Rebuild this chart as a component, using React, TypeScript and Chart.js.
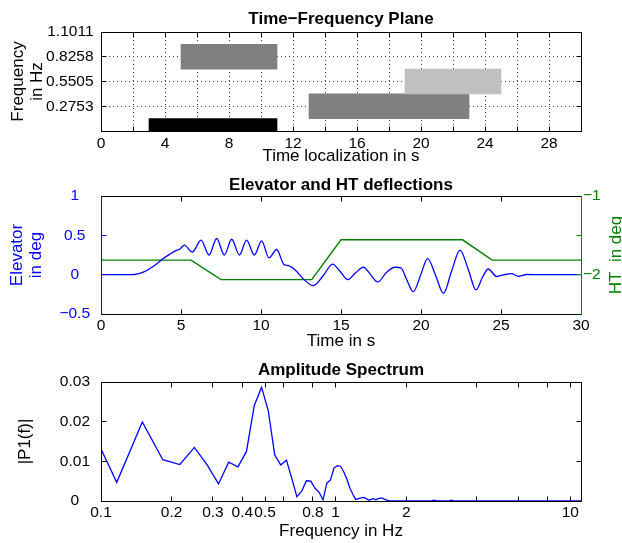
import React, { useEffect, useRef } from 'react';
import { Chart, registerables } from 'chart.js';

Chart.register(...registerables);

// ---------------- data ----------------
// Panel 1: time-frequency plane (rectangles: time span at a frequency level)
const tfFreqLevels = [0, 0.2753, 0.5505, 0.8258];
const tfTimeStart = [3, 13, 19, 5];
const tfTimeEnd = [11, 23, 25, 11];
const tfYTicks = [0, 0.2753, 0.5505, 0.8258, 1.1011];
const tfYTickLabels = ['', '0.2753', '0.5505', '0.8258', '1.1011'];
const tfXTicks = [0, 2, 4, 6, 8, 10, 12, 14, 16, 18, 20, 22, 24, 26, 28, 30];
const tfXTickLabels = ['0', '', '4', '', '8', '', '12', '', '16', '', '20', '', '24', '', '28', ''];

// Panel 2: elevator and HT deflections
const elevTime = [0, 1.9, 2.75, 3.3, 3.79, 4.3, 4.62, 4.95, 5.21, 5.71, 6.25, 6.75, 7.23, 7.71, 8.17, 8.65, 9.1, 9.58, 10.04, 10.5, 10.98, 11.44, 11.71, 12.12, 12.65, 13.27, 13.9, 14.47, 14.95, 15.42, 15.9, 16.4, 16.85, 17.29, 17.85, 18.37, 18.75, 19.1, 19.52, 19.97, 20.41, 20.9, 21.4, 21.92, 22.44, 22.95, 23.44, 23.85, 24.2, 24.73, 25.2, 25.67, 26.08, 26.6, 27.5, 30];
const elevDeg = [0, 0, 0.042, 0.11, 0.19, 0.26, 0.3, 0.33, 0.376, 0.286, 0.44, 0.25, 0.46, 0.25, 0.45, 0.25, 0.44, 0.25, 0.43, 0.213, 0.32, 0.127, 0.115, 0.063, -0.055, -0.14, -0.01, 0.135, 0.04, -0.064, 0.02, 0.094, 0, -0.094, 0.03, 0.094, 0.085, -0.06, -0.216, -0.01, 0.205, 0, -0.237, 0.05, 0.312, 0.07, -0.194, -0.03, 0.072, -0.023, 0, 0.013, -0.02, 0.002, 0, 0];
const htTime = [0, 5.63, 7.5, 13.17, 15.0, 22.6, 24.45, 30];
const htDeg = [-1.815, -1.815, -2.063, -2.063, -1.557, -1.557, -1.815, -1.815];
const timeTicks = [0, 5, 10, 15, 20, 25, 30];
const elevTicks = [-0.5, 0, 0.5, 1];
const htTicks = [-2.5, -2, -1.5, -1];
const htTickLabels = ['', '-2', '', '-1'];

// Panel 3: amplitude spectrum
const specFreq = [0.1, 0.1167, 0.15, 0.1833, 0.2167, 0.25, 0.2833, 0.3167, 0.35, 0.3833, 0.4167, 0.45, 0.4833, 0.5167, 0.55, 0.5833, 0.6167, 0.65, 0.6833, 0.7167, 0.75, 0.7833, 0.8167, 0.85, 0.8833, 0.9167, 0.95, 0.9833, 1.0167, 1.05, 1.0833, 1.1167, 1.15, 1.1833, 1.2167, 1.25, 1.2833, 1.3167, 1.35, 1.3833, 1.4167, 1.45, 1.4833, 1.5167, 1.55, 1.5833, 1.6167, 1.65, 1.6833, 1.75, 2.0, 2.55, 2.62, 2.7, 3.05, 3.12, 3.2, 5, 11.1];
const specAmp = [0.0131, 0.0047, 0.0199, 0.0104, 0.0092, 0.0135, 0.0091, 0.0043, 0.0098, 0.0086, 0.0125, 0.0241, 0.0287, 0.0226, 0.0116, 0.0091, 0.0103, 0.0057, 0.0011, 0.0025, 0.0051, 0.005, 0.0032, 0.0022, 0.0003, 0.0045, 0.0053, 0.0083, 0.0089, 0.0087, 0.0073, 0.0055, 0.0032, 0.0017, 0.0004, 0.0006, 0.0008, 0.0009, 0.0006, 0.0002, 0.0004, 0.0006, 0.0003, 0.0006, 0.0007, 0.0007, 0.0004, 0.0002, 0.0001, 0, 0, 0, 0.0002, 0, 0.0001, 0.0002, 0, 0, 0];
const specXTicks = [0.1, 0.2, 0.3, 0.4, 0.5, 0.6, 0.8, 1, 2, 4, 6, 8, 10];
const specXTickLabels = ['0.1', '0.2', '0.3', '0.4', '0.5', '', '0.8', '1', '2', '', '', '', '10'];
const specYTicks = [0, 0.01, 0.02, 0.03];
const specYTickLabels = ['0', '0.01', '0.02', '0.03'];

// ---------------- styling helpers ----------------
const FONT = "'Liberation Sans', Arial, Helvetica, sans-serif";
const BLUE = '#0000ff';
const GREEN = '#008000';
const tickFont = { family: FONT, size: 15.5 };
const labelFont = { family: FONT, size: 17 };
const minus = (s: string) => s.replace('-', '\u2212');
const setTicks = (values: number[]) => (scale: any) => {
  scale.ticks = values.map((v) => ({ value: v }));
};

const frame = {
  id: 'matlabFrame',
  afterDraw(chart: any, _args: any, o: any) {
    const { ctx, chartArea: a, scales } = chart;
    const px = (p: number) => Math.round(p - 0.5) + 0.5;
    const L = px(a.left), R = px(a.right), T = px(a.top), B = px(a.bottom);
    const tl = 5;
    const line = (x1: number, y1: number, x2: number, y2: number, c: string) => {
      ctx.strokeStyle = c;
      ctx.beginPath();
      ctx.moveTo(x1, y1);
      ctx.lineTo(x2, y2);
      ctx.stroke();
    };
    ctx.save();
    ctx.lineWidth = 1;
    ctx.setLineDash([]);
    const xs = scales.x;
    xs.ticks.forEach((t: any) => {
      const x = px(xs.getPixelForValue(t.value));
      line(x, B, x, B - tl, '#000');
      line(x, T, x, T + tl, '#000');
    });
    const yl = scales.y;
    yl.ticks.forEach((t: any) => {
      const y = px(yl.getPixelForValue(t.value));
      line(L, y, L + tl, y, o.leftColor);
      if (!scales.y2) line(R, y, R - tl, y, '#000');
    });
    if (scales.y2) {
      scales.y2.ticks.forEach((t: any) => {
        const y = px(scales.y2.getPixelForValue(t.value));
        line(R, y, R - tl, y, o.rightColor);
      });
    }
    line(L, T, R, T, '#000');
    line(L, B, R, B, '#000');
    line(L, T, L, B, o.leftColor);
    line(R, T, R, B, o.rightColor);

    ctx.textAlign = 'center';
    ctx.textBaseline = 'middle';
    ctx.fillStyle = '#000';
    ctx.font = `bold 17px ${FONT}`;
    ctx.fillText(o.title, (a.left + a.right) / 2, o.titleY);
    ctx.font = `17px ${FONT}`;
    const cy = (a.top + a.bottom) / 2;
    const rot = (text: string, x: number, color: string) => {
      ctx.save();
      ctx.translate(x, cy);
      ctx.rotate(-Math.PI / 2);
      ctx.fillStyle = color;
      ctx.fillText(text, 0, 0);
      ctx.restore();
    };
    (o.leftTitle as string[]).forEach((t, i) => rot(t, o.leftTitleX[i], o.leftColor));
    if (o.rightTitle) rot(o.rightTitle, o.rightTitleX, o.rightColor);
    ctx.restore();
  },
};

function config1(): any {
  return {
    type: 'bar',
    data: {
      datasets: [
        {
          data: tfFreqLevels.map((f, i) => ({ y: f, x: [tfTimeStart[i], tfTimeEnd[i]] })),
          backgroundColor: ['#000000', '#808080', '#c0c0c0', '#808080'],
          borderWidth: 0,
          barPercentage: 1,
          categoryPercentage: 1,
          grouped: false,
          clip: 0,
        },
      ],
    },
    options: {
      indexAxis: 'y',
      responsive: false,
      animation: false,
      devicePixelRatio: 1,
      layout: { padding: { top: 32, left: 0, right: 41, bottom: 0 } },
      plugins: {
        legend: { display: false },
        tooltip: { enabled: false },
        matlabFrame: {
          title: 'Time\u2212Frequency Plane',
          titleY: 19,
          leftTitle: ['Frequency', 'in Hz'],
          leftTitleX: [18, 37],
          leftColor: '#000',
          rightColor: '#000',
        },
      },
      scales: {
        x: {
          type: 'linear',
          min: 0,
          max: 30,
          z: 1,
          afterBuildTicks: setTicks(tfXTicks),
          afterFit: (s: any) => { s.height = 39; },
          grid: { display: true, drawTicks: false, color: '#3c3c3c', lineWidth: 1 },
          border: { display: false, dash: [1, 3] },
          ticks: { autoSkip: false, maxRotation: 0, padding: 3, color: '#000', font: tickFont, callback: (_v: any, i: number) => tfXTickLabels[i] },
          title: { display: true, text: 'Time localization in s', color: '#000', font: labelFont, padding: { top: 0, bottom: 3 } },
        },
        y: {
          type: 'linear',
          min: 0,
          max: 1.1011,
          offset: false,
          z: 1,
          afterBuildTicks: setTicks(tfYTicks),
          afterFit: (s: any) => { s.width = 101; },
          grid: { display: true, offset: false, drawTicks: false, color: '#3c3c3c', lineWidth: 1 },
          border: { display: false, dash: [1, 3] },
          ticks: { autoSkip: false, padding: 7.5, color: '#000', font: tickFont, callback: (_v: any, i: number) => tfYTickLabels[i] },
        },
      },
    },
    plugins: [frame],
  };
}

function config2(): any {
  return {
    type: 'line',
    data: {
      datasets: [
        {
          data: elevTime.map((t, i) => ({ x: t, y: elevDeg[i] })),
          borderColor: BLUE,
          borderWidth: 1.3,
          pointRadius: 0,
          cubicInterpolationMode: 'monotone',
          yAxisID: 'y',
        },
        {
          data: htTime.map((t, i) => ({ x: t, y: htDeg[i] })),
          borderColor: GREEN,
          borderWidth: 1.4,
          pointRadius: 0,
          tension: 0,
          yAxisID: 'y2',
        },
      ],
    },
    options: {
      responsive: false,
      animation: false,
      devicePixelRatio: 1,
      layout: { padding: { top: 26, left: 0, right: 0, bottom: 0 } },
      plugins: {
        legend: { display: false },
        tooltip: { enabled: false },
        matlabFrame: {
          title: 'Elevator and HT deflections',
          titleY: 15.7,
          leftTitle: ['Elevator', 'in deg'],
          leftTitleX: [17.5, 36],
          leftColor: BLUE,
          rightTitle: 'HT  in deg',
          rightTitleX: 616,
          rightColor: GREEN,
        },
      },
      scales: {
        x: {
          type: 'linear',
          min: 0,
          max: 30,
          afterBuildTicks: setTicks(timeTicks),
          afterFit: (s: any) => { s.height = 41; },
          grid: { display: false, drawTicks: false },
          border: { display: false },
          ticks: { autoSkip: false, maxRotation: 0, padding: 2, color: '#000', font: tickFont, callback: (v: any) => String(v) },
          title: { display: true, text: 'Time in s', color: '#000', font: labelFont, padding: { top: 0, bottom: 3 } },
        },
        y: {
          type: 'linear',
          position: 'left',
          min: -0.5,
          max: 1,
          afterBuildTicks: setTicks(elevTicks),
          afterFit: (s: any) => { s.width = 101; },
          grid: { display: false, drawTicks: false },
          border: { display: false },
          ticks: { autoSkip: false, padding: 11, crossAlign: 'center', color: BLUE, font: tickFont, callback: (v: any) => minus(String(v)) },
        },
        y2: {
          type: 'linear',
          position: 'right',
          min: -2.5,
          max: -1,
          afterBuildTicks: setTicks(htTicks),
          afterFit: (s: any) => { s.width = 41; },
          grid: { display: false, drawTicks: false },
          border: { display: false },
          ticks: { autoSkip: false, padding: 2, color: GREEN, font: tickFont, callback: (_v: any, i: number) => minus(htTickLabels[i]) },
        },
      },
    },
    plugins: [frame],
  };
}

function config3(): any {
  return {
    type: 'line',
    data: {
      datasets: [
        {
          data: specFreq.map((f, i) => ({ x: f, y: specAmp[i] })),
          borderColor: BLUE,
          borderWidth: 1.3,
          pointRadius: 0,
          tension: 0,
        },
      ],
    },
    options: {
      responsive: false,
      animation: false,
      devicePixelRatio: 1,
      layout: { padding: { top: 27, left: 0, right: 41, bottom: 0 } },
      plugins: {
        legend: { display: false },
        tooltip: { enabled: false },
        matlabFrame: {
          title: 'Amplitude Spectrum',
          titleY: 15.7,
          leftTitle: ['|P1(f)|'],
          leftTitleX: [25],
          leftColor: '#000',
          rightColor: '#000',
        },
      },
      scales: {
        x: {
          type: 'logarithmic',
          min: 0.1,
          max: 11.1,
          afterBuildTicks: setTicks(specXTicks),
          afterFit: (s: any) => { s.height = 42; },
          grid: { display: false, drawTicks: false },
          border: { display: false },
          ticks: { autoSkip: false, maxRotation: 0, padding: 2, color: '#000', font: tickFont, callback: (_v: any, i: number) => specXTickLabels[i] },
          title: { display: true, text: 'Frequency in Hz', color: '#000', font: labelFont, padding: { top: 0, bottom: 1 } },
        },
        y: {
          type: 'linear',
          min: 0,
          max: 0.03,
          afterBuildTicks: setTicks(specYTicks),
          afterFit: (s: any) => { s.width = 101; },
          grid: { display: false, drawTicks: false },
          border: { display: false },
          ticks: { autoSkip: false, padding: 11, crossAlign: 'center', color: '#000', font: tickFont, callback: (_v: any, i: number) => specYTickLabels[i] },
        },
      },
    },
    plugins: [frame],
  };
}

export default function App() {
  const r1 = useRef<HTMLCanvasElement>(null);
  const r2 = useRef<HTMLCanvasElement>(null);
  const r3 = useRef<HTMLCanvasElement>(null);

  useEffect(() => {
    const charts = [
      new Chart(r1.current as HTMLCanvasElement, config1()),
      new Chart(r2.current as HTMLCanvasElement, config2()),
      new Chart(r3.current as HTMLCanvasElement, config3()),
    ];
    return () => charts.forEach((c) => c.destroy());
  }, []);

  return (
    <div style={{ position: 'absolute', left: 0, top: 0, width: 622, height: 543, background: '#fff' }}>
      <canvas ref={r1} width={622} height={170} style={{ position: 'absolute', left: 0, top: 0, width: 622, height: 170 }} />
      <canvas ref={r2} width={622} height={185} style={{ position: 'absolute', left: 0, top: 170, width: 622, height: 185 }} />
      <canvas ref={r3} width={622} height={188} style={{ position: 'absolute', left: 0, top: 355, width: 622, height: 188 }} />
    </div>
  );
}
